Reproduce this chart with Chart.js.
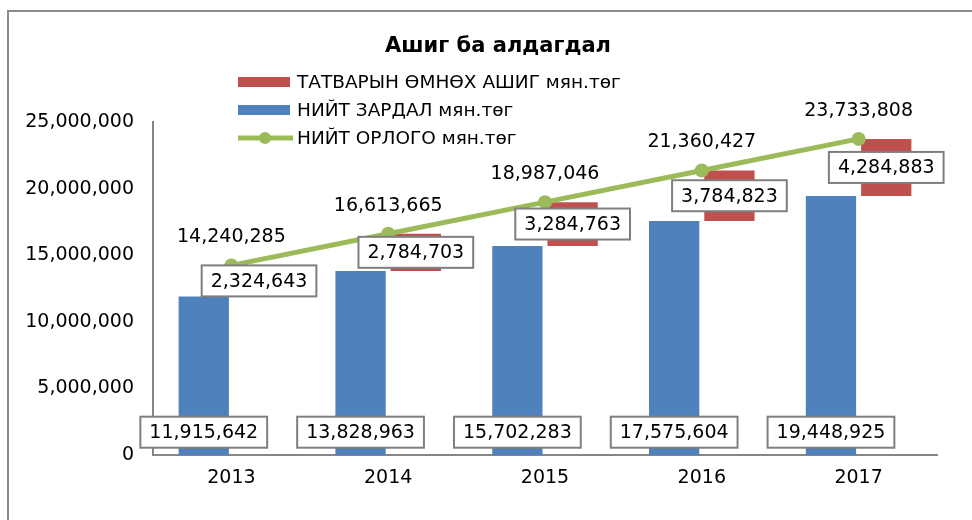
<!DOCTYPE html>
<html>
<head>
<meta charset="utf-8">
<script src="https://cdn.jsdelivr.net/npm/chart.js@4.4.1/dist/chart.umd.min.js"></script>
<style>
    html, body { margin: 0; padding: 0; background: #fff; overflow: hidden; }
    #wrap { position: relative; width: 972px; height: 520px; }
    #frame { position: absolute; left: 7px; top: 10px; width: 980px; height: 530px; border: 2px solid #8a8a8a; box-sizing: border-box; pointer-events: none; }
</style>
</head>
<body>
<div id="wrap">
    <canvas id="profit-chart" width="972" height="520"></canvas>
    <div id="frame"></div>
</div>
<script>
// Données du graphique
const years = ['2013', '2014', '2015', '2016', '2017'];
const totalCost = [11915642, 13828963, 15702283, 17575604, 19448925];
const profitBeforeTax = [2324643, 2784703, 3284763, 3784823, 4284883];
const totalIncome = [14240285, 16613665, 18987046, 21360427, 23733808];
const yTicks = [0, 5000000, 10000000, 15000000, 20000000, 25000000];

const chartTitle = 'Ашиг ба алдагдал';
const labelProfit = 'ТАТВАРЫН ӨМНӨХ АШИГ мян.төг';
const labelCost = 'НИЙТ ЗАРДАЛ мян.төг';
const labelIncome = 'НИЙТ ОРЛОГО мян.төг';

const BLUE = '#4F81BD';
const RED = '#C0504D';
const GREEN = '#9BBB59';
const FONT = '"DejaVu Sans", Verdana, sans-serif';

const fmt = (v) => v.toLocaleString('en-US');

/**
 * Dessine une étiquette encadrée (fond blanc, bord gris)
 */
function boxedLabel(ctx, text, cx, cy) {
    ctx.font = '19px ' + FONT;
    const w = ctx.measureText(text).width + 18;
    const h = 31;
    ctx.fillStyle = '#fff';
    ctx.fillRect(cx - w / 2, cy - h / 2, w, h);
    ctx.strokeStyle = '#7f7f7f';
    ctx.lineWidth = 2;
    ctx.strokeRect(cx - w / 2, cy - h / 2, w, h);
    ctx.fillStyle = '#000';
    ctx.textAlign = 'center';
    ctx.textBaseline = 'middle';
    ctx.fillText(text, cx, cy + 1);
}

// Étiquettes de valeurs, titre et légende
const valueLabels = {
    id: 'valueLabels',
    afterDatasetsDraw(chart) {
        const ctx = chart.ctx;
        const yScale = chart.scales.y;
        ctx.save();

        // Barres bleues : étiquette en bas
        chart.getDatasetMeta(0).data.forEach((bar, i) => {
            boxedLabel(ctx, fmt(totalCost[i]), bar.x, yScale.bottom - 23);
        });

        // Barres rouges : étiquette au centre
        chart.getDatasetMeta(1).data.forEach((bar, i) => {
            boxedLabel(ctx, fmt(profitBeforeTax[i]), bar.x, (bar.y + bar.base) / 2);
        });

        // Ligne verte : texte au-dessus du point
        ctx.font = '19px ' + FONT;
        ctx.fillStyle = '#000';
        ctx.textAlign = 'center';
        ctx.textBaseline = 'middle';
        chart.getDatasetMeta(2).data.forEach((pt, i) => {
            ctx.fillText(fmt(totalIncome[i]), pt.x, pt.y - 28);
        });
        ctx.restore();
    },
    afterDraw(chart) {
        const ctx = chart.ctx;
        ctx.save();

        // Titre
        ctx.font = 'bold 21px ' + FONT;
        ctx.fillStyle = '#000';
        ctx.textAlign = 'center';
        ctx.textBaseline = 'middle';
        ctx.fillText(chartTitle, 498, 47);

        // Légende verticale
        const lx = 238;
        const rows = [82, 110, 138];
        ctx.font = '18.5px ' + FONT;
        ctx.textAlign = 'left';

        ctx.fillStyle = RED;
        ctx.fillRect(lx, rows[0] - 5, 52, 10);
        ctx.fillStyle = BLUE;
        ctx.fillRect(lx, rows[1] - 5, 52, 10);

        ctx.strokeStyle = GREEN;
        ctx.lineWidth = 5;
        ctx.beginPath();
        ctx.moveTo(lx, rows[2]);
        ctx.lineTo(lx + 55, rows[2]);
        ctx.stroke();
        ctx.fillStyle = GREEN;
        ctx.beginPath();
        ctx.arc(lx + 27, rows[2], 6, 0, Math.PI * 2);
        ctx.fill();

        ctx.fillStyle = '#000';
        ctx.fillText(labelProfit, 297, rows[0] + 1);
        ctx.fillText(labelCost, 297, rows[1] + 1);
        ctx.fillText(labelIncome, 297, rows[2] + 1);
        ctx.restore();
    }
};

const ctx = document.getElementById('profit-chart');

new Chart(ctx, {
    data: {
        labels: years,
        datasets: [
            {
                type: 'bar',
                label: labelCost,
                data: totalCost,
                backgroundColor: BLUE,
                categoryPercentage: 0.705,
                barPercentage: 0.91,
                order: 1
            },
            {
                type: 'bar',
                label: labelProfit,
                data: totalCost.map((c, i) => [c, totalIncome[i]]),
                backgroundColor: RED,
                categoryPercentage: 0.705,
                barPercentage: 0.91,
                order: 1
            },
            {
                type: 'line',
                label: labelIncome,
                data: totalIncome,
                borderColor: GREEN,
                backgroundColor: GREEN,
                borderWidth: 5,
                pointRadius: 7,
                pointHoverRadius: 7,
                pointBackgroundColor: GREEN,
                pointBorderWidth: 0,
                tension: 0,
                order: 0
            }
        ]
    },
    options: {
        responsive: false,
        animation: false,
        layout: {
            padding: { top: 122, left: 0, right: 35, bottom: 28 }
        },
        plugins: {
            legend: { display: false },
            title: { display: false },
            tooltip: { enabled: false }
        },
        scales: {
            x: {
                offset: true,
                grid: { display: false },
                border: { color: '#868686', width: 2 },
                ticks: {
                    color: '#000',
                    padding: 3,
                    font: { size: 19, family: FONT }
                }
            },
            y: {
                min: 0,
                max: 25000000,
                afterFit: (scale) => { scale.width = 153; },
                afterBuildTicks: (scale) => {
                    scale.ticks = yTicks.map(v => ({ value: v }));
                },
                grid: { display: false },
                border: { color: '#868686', width: 2 },
                ticks: {
                    color: '#000',
                    padding: 11,
                    font: { size: 19, family: FONT },
                    callback: (v) => fmt(v)
                }
            }
        }
    },
    plugins: [valueLabels]
});
</script>
</body>
</html>
